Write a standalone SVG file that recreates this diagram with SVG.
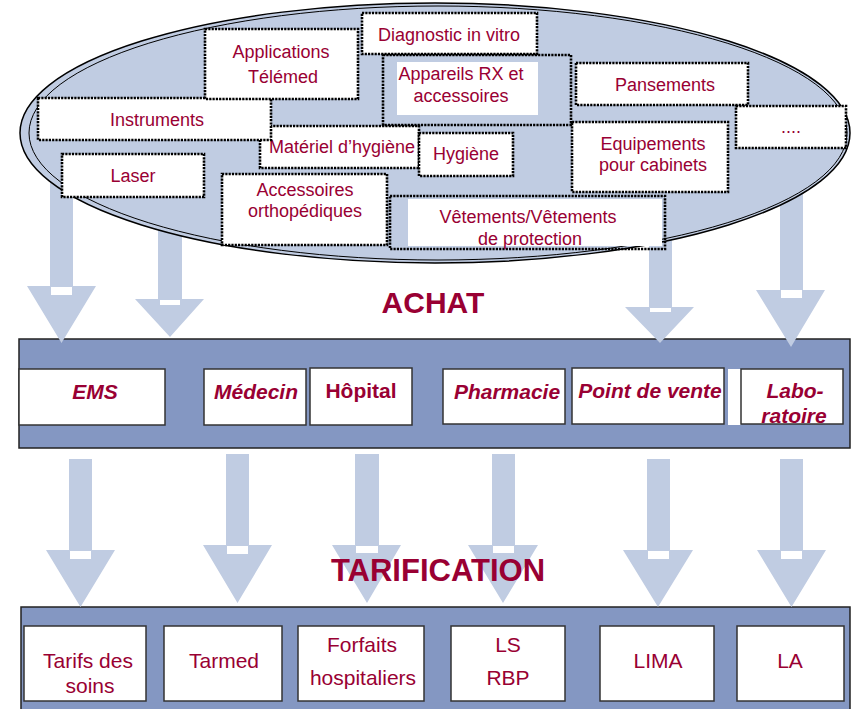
<svg xmlns="http://www.w3.org/2000/svg" width="851" height="709" viewBox="0 0 851 709">
<style>
text{font-family:"Liberation Sans",Arial,sans-serif;fill:#990033;text-anchor:middle}
.t{font-size:18px}
.a{font-size:21px;font-weight:bold}
.i{font-style:italic}
.r{font-size:21px}
.h{font-size:30px;font-weight:bold}
.dot{fill:#fff;stroke:#000;stroke-width:2.6;stroke-dasharray:2.2 1.1}
.dotn{fill:none;stroke:#000;stroke-width:2.6;stroke-dasharray:2.2 1.1}
.bar{fill:#8497C2;stroke:#222;stroke-width:1.5}
.box{fill:#fff;stroke:#333;stroke-width:1.5}
.arr{fill:#C0CCE2}
.w{fill:#fff}
</style>
<rect x="0" y="0" width="851" height="709" fill="#fff"/>
<g id="achat-bar"><rect class="bar" x="19" y="339" width="831" height="109"/></g>
<g id="tarif-bar"><rect class="bar" x="21" y="607" width="829" height="104"/></g>
<g id="connectors">
<polygon class="arr" points="50,150 73,150 73,286 96,286 61.5,343 27,286 50,286"/>
<rect class="w" x="51" y="287" width="21" height="8"/>
<polygon class="arr" points="158,200 182,200 182,299 204,299 170,337 135,299 158,299"/>
<rect class="w" x="160" y="300" width="20" height="5"/>
<polygon class="arr" points="649,200 672,200 672,307 694,307 660,343 625,307 649,307"/>
<rect class="w" x="650" y="308" width="21" height="4"/>
<polygon class="arr" points="780,150 803,150 803,290 825,290 791,347 756,290 780,290"/>
<rect class="w" x="781" y="290" width="21" height="8"/>
<polygon class="arr" points="69,459 92,459 92,550 115,550 80.5,607 46,550 69,550"/>
<rect class="w" x="70" y="551" width="21" height="8"/>
<polygon class="arr" points="226,454 249,454 249,545 272,545 237.5,603 203,545 226,545"/>
<rect class="w" x="227" y="546" width="21" height="8"/>
<polygon class="arr" points="355,454 379,454 379,545 401,545 367,603 332,545 355,545"/>
<rect class="w" x="356" y="546" width="22" height="7"/>
<polygon class="arr" points="492,454 515,454 515,545 538,545 503,603 468,545 492,545"/>
<rect class="w" x="493" y="546" width="21" height="7"/>
<polygon class="arr" points="647,459 670,459 670,550 693,550 658,607 623,550 647,550"/>
<rect class="w" x="648" y="551" width="21" height="8"/>
<polygon class="arr" points="780,459 803,459 803,550 826,550 791.5,607 757,550 780,550"/>
<rect class="w" x="781" y="551" width="21" height="8"/>
</g>
<g id="ellipse">
<ellipse cx="435" cy="133" rx="415" ry="130" fill="#C0CCE2" stroke="#000" stroke-width="1.5"/>
<ellipse cx="438" cy="133" rx="409" ry="127" fill="none" stroke="#000" stroke-width="1"/>
</g>
<g id="materiel-hygiene"><rect class="dot" x="260" y="126" width="159" height="42"/><text class="t" x="342" y="153">Matériel d’hygiène</text></g>
<g id="instruments"><rect class="dot" x="38" y="98" width="233" height="42"/><text class="t" x="157" y="126">Instruments</text></g>
<g id="applications"><rect class="dot" x="205" y="29" width="153" height="70"/><text class="t" x="281" y="58">Applications</text><text class="t" x="283" y="83">Télémed</text></g>
<g id="diagnostic"><rect class="dot" x="362" y="13" width="175" height="41"/><text class="t" x="449" y="41">Diagnostic in vitro</text></g>
<g id="appareils-rx"><rect class="dotn" x="383" y="55" width="188" height="70"/><rect class="w" x="397" y="62" width="141" height="53"/><text class="t" x="461" y="80">Appareils RX et</text><text class="t" x="461" y="102">accessoires</text></g>
<g id="pansements"><rect class="dot" x="576" y="63" width="172" height="42"/><text class="t" x="665" y="91">Pansements</text></g>
<g id="etc"><rect class="dot" x="736" y="106" width="110" height="42"/><text class="t" x="791" y="133">....</text></g>
<g id="equipements"><rect class="dot" x="572" y="122" width="156" height="70"/><text class="t" x="653" y="150">Equipements</text><text class="t" x="653" y="171">pour cabinets</text></g>
<g id="hygiene"><rect class="dot" x="419" y="133" width="94" height="43"/><text class="t" x="466" y="160">Hygiène</text></g>
<g id="laser"><rect class="dot" x="62" y="154" width="142" height="43"/><text class="t" x="133" y="182">Laser</text></g>
<g id="accessoires-ortho"><rect class="dot" x="222" y="174" width="165" height="71"/><text class="t" x="305" y="196">Accessoires</text><text class="t" x="305" y="217">orthopédiques</text></g>
<g id="vetements"><rect class="dotn" x="390" y="196" width="275" height="53"/><rect class="w" x="408" y="199" width="254" height="47"/><text class="t" x="528" y="223">Vêtements/Vêtements</text><text class="t" x="530" y="245">de protection</text></g>
<g id="achat-title"><text class="h" x="433" y="313">ACHAT</text></g>
<g id="ems"><rect class="box" x="19" y="369" width="146" height="56"/><text class="a i" x="95" y="399">EMS</text></g>
<g id="medecin"><rect class="box" x="204" y="369" width="102" height="56"/><text class="a i" x="256" y="399">Médecin</text></g>
<g id="hopital"><rect class="box" x="310" y="368" width="102" height="57"/><text class="a" x="361" y="398">Hôpital</text></g>
<g id="pharmacie"><rect class="box" x="443" y="369" width="122" height="55"/><text class="a i" x="507" y="399">Pharmacie</text></g>
<g id="point-de-vente"><rect class="box" x="572" y="368" width="152" height="56"/><text class="a i" x="650" y="398">Point de vente</text></g>
<g id="laboratoire"><rect class="w" x="728" y="369" width="13" height="56"/><rect class="box" x="741" y="369" width="102" height="55"/><text class="a i" x="795" y="398">Labo-</text><text class="a i" x="794" y="423">ratoire</text></g>
<g id="tarif-title"><text class="h" x="438" y="581" style="font-size:31px">TARIFICATION</text></g>
<g id="tarifs-soins"><rect class="box" x="24" y="626" width="122" height="75"/><text class="r" x="88" y="668">Tarifs des</text><text class="r" x="90" y="693">soins</text></g>
<g id="tarmed"><rect class="box" x="164" y="626" width="118" height="75"/><text class="r" x="224" y="668">Tarmed</text></g>
<g id="forfaits"><rect class="box" x="298" y="626" width="126" height="75"/><text class="r" x="362" y="652">Forfaits</text><text class="r" x="363" y="685">hospitaliers</text></g>
<g id="ls-rbp"><rect class="box" x="451" y="626" width="114" height="75"/><text class="r" x="508" y="652">LS</text><text class="r" x="508" y="685">RBP</text></g>
<g id="lima"><rect class="box" x="600" y="626" width="114" height="75"/><text class="r" x="658" y="668">LIMA</text></g>
<g id="la"><rect class="box" x="737" y="626" width="107" height="75"/><text class="r" x="790" y="668">LA</text></g>
</svg>
